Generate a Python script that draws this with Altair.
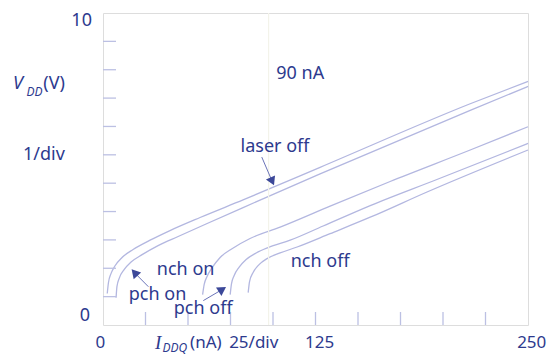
import altair as alt
import pandas as pd

# ---- curve data (x in nA, y in V-divisions) ----
a_x = [2.5, 3.2, 4.7, 7.1, 11.2, 17.7, 27.7, 39.4, 57.1, 82.4, 127.7, 216.0, 250]
a_y = [1.11, 1.49, 1.81, 2.09, 2.38, 2.66, 2.99, 3.33, 3.79, 4.41, 5.56, 7.80, 8.59]
b_x = [7.7, 8.2, 9.7, 12.4, 16.5, 23.0, 32.4, 44.2, 60.6, 82.4, 127.7, 216.0, 250]
b_y = [0.96, 1.35, 1.67, 1.95, 2.22, 2.48, 2.80, 3.12, 3.56, 4.14, 5.33, 7.57, 8.41]
c_x = [58.6, 59.5, 61.2, 64.2, 68.9, 75.9, 86.5, 104.2, 133.6, 168.9, 216.0, 250]
c_y = [1.07, 1.42, 1.71, 2.02, 2.38, 2.69, 3.05, 3.45, 4.19, 5.06, 6.17, 6.99]
d_x = [74.8, 75.6, 77.1, 80.1, 84.2, 90.1, 97.1, 110.1, 129.5, 157.2, 196.4, 250]
d_y = [1.07, 1.46, 1.74, 2.04, 2.31, 2.54, 2.73, 2.99, 3.49, 4.21, 5.13, 6.40]
e_x = [85.4, 86.2, 88.3, 91.8, 96.5, 104.2, 114.2, 133.6, 157.2, 190.6, 250]
e_y = [1.14, 1.53, 1.85, 2.13, 2.34, 2.54, 2.75, 3.22, 3.80, 4.69, 6.17]

x_ticks = [25, 50, 75, 100, 125, 150, 175, 200, 225]
y_ticks = [1, 2, 3, 4, 5, 6, 7, 8, 9, 10]
marker_x = [97.4]

# annotations inside plot
ann_text = ["laser off", "90 nA", "nch on", "pch on", "pch off", "nch off"]
ann_x = [101.2, 116.0, 48.6, 32.1, 58.9, 127.7]
ann_y = [6.28, 8.85, 1.95, 1.07, 0.58, 2.23]

# arrows: tail -> head
arr_x = [93.4, 26.7, 59.0]
arr_y = [5.92, 1.35, 0.86]
arr_x2 = [99.2, 19.1, 69.5]
arr_y2 = [5.11, 1.81, 1.23]
arr_angle = [156, 318, 57]

# axis label texts
lab_right_text = ["10", "0", "1/div", "(V)"]
lab_right_x = [-6.5, -7.6, -22.4, -22.4]
lab_right_y = [10.72, 0.30, 5.98, 8.48]
bottom_text = ["0", "125", "250"]
bottom_x = [-1.5, 127.4, 252.2]
bottom_y = [-0.64, -0.64, -0.64]
left_text = ["(nA)", "25/div"]
left_x = [51.2, 74.2]
left_y = [-0.64, -0.64]

NAVY = "#2d3a8e"
LINE = "#b3b7e0"
FRAME = "#c3c6e6"
TICK = "#bcc0e3"
W, H = 425, 312
X_MAX, Y_MAX = 250, 11
TICK_PX = 13
tick_dx = TICK_PX / W * X_MAX   # tick length in x data units
tick_dy = TICK_PX / H * Y_MAX   # tick length in y data units

rows = []
for name, xs_, ys_ in [("A", a_x, a_y), ("B", b_x, b_y), ("C", c_x, c_y),
                       ("D", d_x, d_y), ("E", e_x, e_y)]:
    for i, (xv, yv) in enumerate(zip(xs_, ys_)):
        rows.append({"series": name, "x": xv, "y": yv, "order": i})
curves = pd.DataFrame(rows)

xs = alt.Scale(domain=[0, X_MAX], nice=False, zero=False)
ys = alt.Scale(domain=[0, Y_MAX], nice=False, zero=False)

lines = alt.Chart(curves).mark_line(
    interpolate="monotone", color=LINE, strokeWidth=1.3
).encode(
    x=alt.X("x:Q", scale=xs, axis=alt.Axis(
        ticks=False, labels=False, domain=False, grid=False, title=None)),
    y=alt.Y("y:Q", scale=ys, axis=alt.Axis(
        ticks=False, labels=False, domain=False, grid=False, title=None)),
    detail="series:N",
    order="order:Q",
)

xt = pd.DataFrame({"x": x_ticks, "y0": [0] * len(x_ticks), "y1": [tick_dy] * len(x_ticks)})
xtick = alt.Chart(xt).mark_rule(color=TICK, strokeWidth=1.3).encode(
    x=alt.X("x:Q", scale=xs), y=alt.Y("y0:Q", scale=ys), y2="y1:Q")

yt = pd.DataFrame({"y": y_ticks, "x0": [0] * len(y_ticks), "x1": [tick_dx] * len(y_ticks)})
ytick = alt.Chart(yt).mark_rule(color=TICK, strokeWidth=1.3).encode(
    y=alt.Y("y:Q", scale=ys), x=alt.X("x0:Q", scale=xs), x2="x1:Q")

marker = alt.Chart(pd.DataFrame({"x": marker_x})).mark_rule(
    color="#f3f3ea", strokeWidth=1.2
).encode(x=alt.X("x:Q", scale=xs))

ann = alt.Chart(pd.DataFrame({"t": ann_text, "x": ann_x, "y": ann_y})).mark_text(
    font="Noto Sans", fontSize=18, color=NAVY, align="center", baseline="middle"
).encode(x=alt.X("x:Q", scale=xs), y=alt.Y("y:Q", scale=ys), text="t:N")

arrows = alt.Chart(pd.DataFrame({"x": arr_x, "y": arr_y, "x2": arr_x2, "y2": arr_y2})).mark_rule(
    color="#6a73b8", strokeWidth=1
).encode(x=alt.X("x:Q", scale=xs), y=alt.Y("y:Q", scale=ys), x2="x2:Q", y2="y2:Q")

heads = alt.Chart(pd.DataFrame({"x": arr_x2, "y": arr_y2, "a": arr_angle})).mark_point(
    shape="triangle", filled=True, size=100, opacity=1, color="#3c4899"
).encode(x=alt.X("x:Q", scale=xs), y=alt.Y("y:Q", scale=ys),
         angle=alt.Angle("a:Q", scale=None))

right_labels = alt.Chart(pd.DataFrame({"t": lab_right_text, "x": lab_right_x, "y": lab_right_y})).mark_text(
    font="Noto Sans", fontSize=18, color=NAVY, align="right", baseline="middle"
).encode(x=alt.X("x:Q", scale=xs), y=alt.Y("y:Q", scale=ys), text="t:N")

vdd_v = alt.Chart(pd.DataFrame({"t": ["V"], "x": [-53.0], "y": [8.48]})).mark_text(
    font="Noto Sans", fontSize=18, fontStyle="italic", color=NAVY, align="left", baseline="middle"
).encode(x=alt.X("x:Q", scale=xs), y=alt.Y("y:Q", scale=ys), text="t:N")
vdd_sub = alt.Chart(pd.DataFrame({"t": ["DD"], "x": [-45.0], "y": [8.22]})).mark_text(
    font="Noto Sans", fontSize=12, fontStyle="italic", color=NAVY, align="left", baseline="middle"
).encode(x=alt.X("x:Q", scale=xs), y=alt.Y("y:Q", scale=ys), text="t:N")

bottom = alt.Chart(pd.DataFrame({"t": bottom_text, "x": bottom_x, "y": bottom_y})).mark_text(
    font="Noto Sans", fontSize=17, color=NAVY, align="center", baseline="middle"
).encode(x=alt.X("x:Q", scale=xs), y=alt.Y("y:Q", scale=ys), text="t:N")

bottom_left = alt.Chart(pd.DataFrame({"t": left_text, "x": left_x, "y": left_y})).mark_text(
    font="Noto Sans", fontSize=17, color=NAVY, align="left", baseline="middle"
).encode(x=alt.X("x:Q", scale=xs), y=alt.Y("y:Q", scale=ys), text="t:N")

iddq_i = alt.Chart(pd.DataFrame({"t": ["I"], "x": [30.6], "y": [-0.64]})).mark_text(
    font="Liberation Serif", fontSize=19, fontStyle="italic", color=NAVY, align="left", baseline="middle"
).encode(x=alt.X("x:Q", scale=xs), y=alt.Y("y:Q", scale=ys), text="t:N")
iddq_sub = alt.Chart(pd.DataFrame({"t": ["DDQ"], "x": [35.0], "y": [-0.82]})).mark_text(
    font="Noto Sans", fontSize=12, fontStyle="italic", color=NAVY, align="left", baseline="middle"
).encode(x=alt.X("x:Q", scale=xs), y=alt.Y("y:Q", scale=ys), text="t:N")

chart = alt.layer(
    lines, marker, xtick, ytick, arrows, heads, ann, right_labels, vdd_v, vdd_sub,
    bottom, bottom_left, iddq_i, iddq_sub
).properties(
    width=W, height=H,
    autosize=alt.AutoSizeParams(type="none"),
    padding={"left": 95, "top": 5, "right": 24, "bottom": 30},
).configure_view(stroke=FRAME, strokeWidth=1.5).configure(background="white")

chart.save("out.html", embed_options={"renderer": "svg", "actions": False})
